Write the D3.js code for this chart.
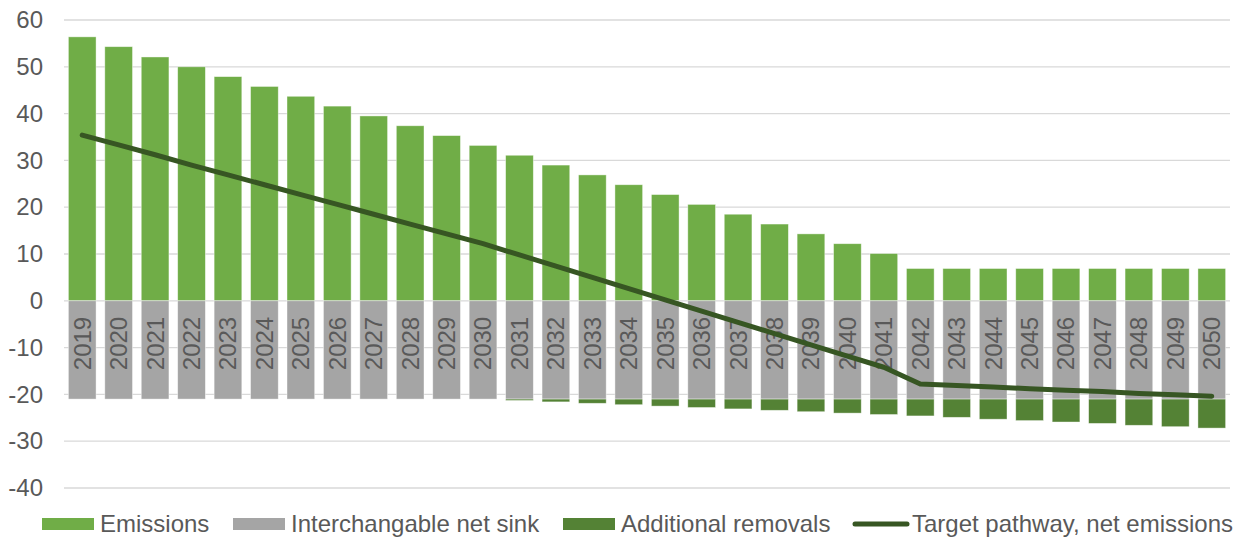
<!DOCTYPE html>
<html><head><meta charset="utf-8">
<script src="https://cdn.jsdelivr.net/npm/d3@7"></script>
<style>
html,body{margin:0;padding:0;background:#fff;}
svg{display:block;font-family:Arial,"Liberation Sans",sans-serif;}
</style></head>
<body><svg id="c" width="1245" height="538"></svg>
<script>
const years = [2019,2020,2021,2022,2023,2024,2025,2026,2027,2028,2029,2030,2031,2032,2033,2034,2035,2036,2037,2038,2039,2040,2041,2042,2043,2044,2045,2046,2047,2048,2049,2050];
const emissions = [56.4,54.3,52.1,50.0,47.9,45.8,43.7,41.6,39.5,37.4,35.3,33.2,31.1,29.0,26.9,24.8,22.7,20.6,18.5,16.4,14.3,12.2,10.1,6.9,6.9,6.9,6.9,6.9,6.9,6.9,6.9,6.9];
const netSink = [-21,-21,-21,-21,-21,-21,-21,-21,-21,-21,-21,-21,-21,-21,-21,-21,-21,-21,-21,-21,-21,-21,-21,-21,-21,-21,-21,-21,-21,-21,-21,-21];
const additionalRemovals = [0,0,0,0,0,0,0,0,0,0,0,0,-0.3,-0.6,-0.9,-1.2,-1.5,-1.8,-2.1,-2.4,-2.7,-3.0,-3.3,-3.6,-3.9,-4.3,-4.6,-4.9,-5.2,-5.6,-5.9,-6.2];
const targetPathway = [35.4,33.3,31.2,29.0,26.9,24.8,22.7,20.6,18.5,16.4,14.3,12.2,9.8,7.4,5.0,2.6,0.2,-2.2,-4.6,-7.0,-9.4,-11.8,-14.2,-17.8,-18.1,-18.4,-18.8,-19.1,-19.4,-19.8,-20.1,-20.4];
const yTicks = [-40,-30,-20,-10,0,10,20,30,40,50,60];
const seriesNames = ["Emissions","Interchangable net sink","Additional removals","Target pathway, net emissions"];

(function(){
const colors = {em:"#70AD47", sink:"#A5A5A5", add:"#548235", line:"#375623", grid:"#D9D9D9", text:"#595959"};
const fs = 24;
const svg = d3.select("#c");
const mLeft = 64, mRight = 1230, mTop = 20, mBottom = 488;

const x = d3.scaleBand().domain(years).range([mLeft, mRight]).paddingInner(0.24).paddingOuter(0.12);
const y = d3.scaleLinear().domain([-40, 60]).range([mBottom, mTop]);

// gridlines
svg.append("g").selectAll("line").data(yTicks).join("line")
  .attr("x1", mLeft).attr("x2", mRight)
  .attr("y1", d => y(d)).attr("y2", d => y(d))
  .attr("stroke", colors.grid).attr("stroke-width", 1.3);

// y axis labels
const yAxis = d3.axisLeft(y).tickValues(yTicks).tickSize(0).tickPadding(21).tickFormat(d => String(d));
const ga = svg.append("g").attr("transform", `translate(${mLeft},0)`).call(yAxis);
ga.select(".domain").remove();
ga.selectAll("text").attr("font-size", fs).attr("fill", colors.text).attr("font-family", "Arial, 'Liberation Sans', sans-serif");

const barStroke = "rgba(255,255,255,0.55)";
// emissions
svg.append("g").selectAll("rect").data(years).join("rect")
  .attr("x", d => x(d)).attr("width", x.bandwidth())
  .attr("y", (d,i) => y(emissions[i])).attr("height", (d,i) => y(0) - y(emissions[i]))
  .attr("fill", colors.em).attr("stroke", barStroke).attr("stroke-width", 0.75);
// net sink
svg.append("g").selectAll("rect").data(years).join("rect")
  .attr("x", d => x(d)).attr("width", x.bandwidth())
  .attr("y", y(0)).attr("height", (d,i) => y(netSink[i]) - y(0))
  .attr("fill", colors.sink).attr("stroke", barStroke).attr("stroke-width", 0.75);
// additional removals
svg.append("g").selectAll("rect").data(years.filter((d,i)=>additionalRemovals[i] < 0)).join("rect")
  .attr("x", d => x(d)).attr("width", x.bandwidth())
  .attr("y", d => y(netSink[years.indexOf(d)]))
  .attr("height", d => { const i = years.indexOf(d); return y(netSink[i] + additionalRemovals[i]) - y(netSink[i]); })
  .attr("fill", colors.add).attr("stroke", barStroke).attr("stroke-width", 0.75);

// year labels
svg.append("g").selectAll("text").data(years).join("text")
  .attr("transform", d => `translate(${x(d) + x.bandwidth()/2},${y(0) + 16}) rotate(-90)`)
  .attr("text-anchor", "end").attr("dy", "0.35em")
  .attr("font-size", fs).attr("fill", colors.text)
  .text(d => d);

// target line
const line = d3.line().x((d,i) => x(years[i]) + x.bandwidth()/2).y(d => y(d));
svg.append("path").datum(targetPathway).attr("d", line)
  .attr("fill", "none").attr("stroke", colors.line).attr("stroke-width", 5)
  .attr("stroke-linecap", "round").attr("stroke-linejoin", "round");

// legend
const ly = 524;
const legendItems = [
  {name: seriesNames[0], type: "rect", color: colors.em, sx: 42, tx: 100},
  {name: seriesNames[1], type: "rect", color: colors.sink, sx: 233, tx: 291},
  {name: seriesNames[2], type: "rect", color: colors.add, sx: 563, tx: 621},
  {name: seriesNames[3], type: "line", color: colors.line, sx: 855, tx: 912}
];
const lg = svg.append("g");
legendItems.forEach(it => {
  if (it.type === "rect") {
    lg.append("rect").attr("x", it.sx).attr("y", ly - 6).attr("width", 52).attr("height", 12).attr("fill", it.color);
  } else {
    lg.append("line").attr("x1", it.sx).attr("x2", it.sx + 52).attr("y1", ly).attr("y2", ly)
      .attr("stroke", it.color).attr("stroke-width", 5).attr("stroke-linecap", "round");
  }
  lg.append("text").attr("x", it.tx).attr("y", ly).attr("dy", "0.35em")
    .attr("font-size", fs).attr("fill", colors.text).text(it.name);
});
})();
</script></body></html>
